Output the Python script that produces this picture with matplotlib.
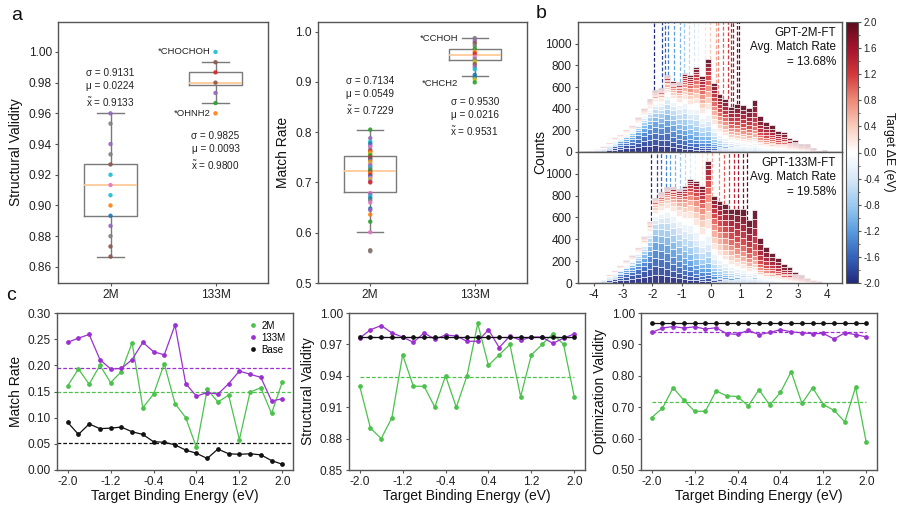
import numpy as np
import matplotlib
matplotlib.use("Agg")
import matplotlib.pyplot as plt
from matplotlib.colors import Normalize, LinearSegmentedColormap
from matplotlib.cm import ScalarMappable
from matplotlib.lines import Line2D
from matplotlib.ticker import MultipleLocator, FormatStrFormatter

plt.rcParams.update({
    "font.family": ["Liberation Sans", "DejaVu Sans"],
    "mathtext.fontset": "custom",
    "mathtext.rm": "Liberation Sans",
    "mathtext.it": "Liberation Sans:italic",
    "axes.unicode_minus": False,
    "axes.edgecolor": "#555555",
    "axes.linewidth": 1.0,
    "xtick.color": "#555555",
    "ytick.color": "#555555",
    "xtick.labelcolor": "#222222",
    "ytick.labelcolor": "#222222",
    "xtick.major.size": 2.5,
    "ytick.major.size": 2.5,
    "xtick.major.pad": 2.0,
    "ytick.major.pad": 2.0,
    "xtick.labelsize": 8.6,
    "ytick.labelsize": 8.6,
    "axes.labelsize": 10,
    "axes.labelcolor": "#111111",
})

TAB10 = plt.get_cmap("tab10").colors

# ---------------------------------------------------------------- data (a)
sv_2m = [0.9600, 0.9533, 0.9400, 0.9333, 0.9267, 0.9200, 0.9133, 0.9067,
         0.9000, 0.8933, 0.8867, 0.8800, 0.8733, 0.8667]
sv_2m_cidx = [4, 7, 4, 7, 5, 9, 6, 9, 1, 0, 4, 7, 5, 5]
sv_133m = [1.0000, 0.9933, 0.9867, 0.9800, 0.9733, 0.9667, 0.9600]
sv_133m_cidx = [9, 5, 3, 5, 4, 2, 1]
sv_box = {"2M": (0.8933, 0.9133, 0.9267, 0.8667, 0.9600),
          "133M": (0.9783, 0.9800, 0.9867, 0.9667, 0.9933)}
sv_stats = ["σ = 0.9131\nμ = 0.0224\n$\\tilde{\\mathrm{x}}$ = 0.9133",
            "σ = 0.9825\nμ = 0.0093\n$\\tilde{\\mathrm{x}}$ = 0.9800"]

mr_2m = [0.805, 0.788, 0.781, 0.777, 0.773, 0.770, 0.765, 0.762, 0.760, 0.757,
         0.754, 0.751, 0.748, 0.745, 0.742, 0.739, 0.736, 0.733, 0.730, 0.727,
         0.724, 0.721, 0.718, 0.715, 0.712, 0.709, 0.706, 0.702, 0.700, 0.679,
         0.676, 0.672, 0.668, 0.664, 0.660, 0.648, 0.645, 0.636, 0.622, 0.601,
         0.565, 0.563]
mr_2m_cidx = [2, 4, 9, 0, 4, 6, 7, 3, 1, 8, 2, 5, 3, 0, 1, 8, 6, 4, 9, 7,
              2, 5, 1, 3, 0, 6, 8, 4, 3, 6, 4, 9, 0, 7, 6, 0, 4, 1, 2, 6, 5, 7]
mr_133m = [0.987, 0.982, 0.977, 0.972, 0.966, 0.960, 0.956, 0.950, 0.945,
           0.940, 0.935, 0.930, 0.925, 0.914, 0.909, 0.905, 0.899]
mr_133m_cidx = [7, 4, 5, 7, 2, 1, 3, 6, 7, 8, 5, 4, 9, 0, 0, 8, 2]
mr_box = {"2M": (0.680, 0.7229, 0.752, 0.601, 0.805),
          "133M": (0.943, 0.9531, 0.9655, 0.911, 0.987)}
mr_stats = ["σ = 0.7134\nμ = 0.0549\n$\\tilde{\\mathrm{x}}$ = 0.7229",
            "σ = 0.9530\nμ = 0.0216\n$\\tilde{\\mathrm{x}}$ = 0.9531"]

# ---------------------------------------------------------------- data (b)
targets = [-2.0, -1.8, -1.6, -1.4, -1.2, -1.0, -0.8, -0.6, -0.4, -0.2, 0.0,
           0.2, 0.4, 0.6, 0.8, 1.0, 1.2, 1.4, 1.6, 1.8, 2.0]
bin_edges = np.round(np.arange(-4.4, 4.41, 0.2), 2)
counts_2m = [22, 28, 37, 52, 92, 138, 170, 215, 250, 323, 409, 489, 570, 590,
             708, 660, 650, 730, 708, 785, 700, 855, 637, 532, 489, 420, 440,
             430, 410, 477, 330, 275, 245, 195, 188, 128, 108, 78, 70, 35, 22,
             14, 8, 3]
counts_133m = [9, 18, 31, 49, 80, 117, 163, 209, 255, 332, 431, 572, 778, 830,
               880, 877, 862, 886, 954, 932, 886, 1117, 794, 748, 723, 677, 677,
               677, 578, 670, 409, 332, 277, 225, 172, 142, 102, 71, 49, 31, 18,
               9, 3, 1]
# mean generated dE per target (dashed lines)
means_2m = [-1.94, -1.66, -1.57, -1.45, -1.25, -1.04, -0.92, -0.73, -0.56,
            -0.42, -0.31, -0.18, -0.02, 0.18, 0.26, 0.41, 0.58, 0.70, 0.78,
            0.89, 0.98]
means_133m = [-2.05, -1.85, -1.71, -1.54, -1.39, -1.22, -1.05, -0.88, -0.71,
              -0.55, -0.42, -0.31, -0.14, 0.03, 0.28, 0.47, 0.64, 0.81, 0.95,
              1.10, 1.24]
spread = 1.1

# colour scale as seen on the colour bar
cbar_stops = [-2.0, -1.6, -1.2, -0.8, -0.4, 0.0, 0.4, 0.8, 1.2, 1.6, 2.0]
cbar_colors = ["#232a7e", "#3463bd", "#5a9de0", "#9ccaf0", "#d9e8f7",
               "#ffffff", "#f9cdbc", "#ef8a78", "#d3383c", "#a5142c",
               "#5c0a1e"]

# ---------------------------------------------------------------- data (c)
energy = [-2.0, -1.8, -1.6, -1.4, -1.2, -1.0, -0.8, -0.6, -0.4, -0.2, 0.0,
          0.2, 0.4, 0.6, 0.8, 1.0, 1.2, 1.4, 1.6, 1.8, 2.0]
match_2m = [0.161, 0.193, 0.164, 0.200, 0.167, 0.188, 0.243, 0.119, 0.145,
            0.203, 0.127, 0.100, 0.043, 0.154, 0.130, 0.143, 0.058, 0.149,
            0.157, 0.108, 0.168]
match_133m = [0.244, 0.252, 0.259, 0.211, 0.193, 0.194, 0.211, 0.244, 0.226,
              0.220, 0.277, 0.165, 0.141, 0.148, 0.145, 0.165, 0.189, 0.183,
              0.177, 0.132, 0.136]
match_base = [0.091, 0.068, 0.088, 0.079, 0.080, 0.082, 0.073, 0.068, 0.054,
              0.053, 0.048, 0.038, 0.032, 0.022, 0.040, 0.031, 0.030, 0.031,
              0.029, 0.018, 0.011]
struct_2m = [0.93, 0.89, 0.88, 0.90, 0.96, 0.93, 0.93, 0.91, 0.94, 0.91, 0.94,
             0.99, 0.95, 0.96, 0.97, 0.92, 0.96, 0.97, 0.98, 0.97, 0.92]
struct_133m = [0.976, 0.984, 0.988, 0.981, 0.977, 0.972, 0.981, 0.975, 0.979,
               0.978, 0.973, 0.973, 0.984, 0.967, 0.978, 0.974, 0.977, 0.977,
               0.971, 0.976, 0.980]
struct_base = [0.9766] * 21
opt_2m = [0.667, 0.697, 0.762, 0.722, 0.687, 0.687, 0.752, 0.736, 0.734,
          0.704, 0.756, 0.707, 0.747, 0.813, 0.712, 0.762, 0.708, 0.690,
          0.653, 0.764, 0.588]
opt_133m = [0.938, 0.952, 0.957, 0.952, 0.956, 0.949, 0.953, 0.934, 0.932,
            0.945, 0.931, 0.938, 0.947, 0.940, 0.937, 0.934, 0.935, 0.917,
            0.937, 0.931, 0.924]
opt_base = [0.967] * 21

GREEN = "#4cc24c"
PURPLE = "#9b30d0"
BLACK = "#111111"

W, H = 898, 505
fig = plt.figure(figsize=(W / 100, H / 100), dpi=100)


def px_axes(l, t, r, b):
    return fig.add_axes([l / W, 1 - b / H, (r - l) / W, (b - t) / H])


def box_panel(ax, box, pts, cidx, stats, ylim, ylabel, stat_y, notes):
    bstats = []
    for name, (q1, med, q3, lo, hi) in box.items():
        bstats.append(dict(label=name, q1=q1, med=med, q3=q3,
                           whislo=lo, whishi=hi, fliers=[]))
    gray = dict(color="#7a7a7a", linewidth=1.0)
    ax.bxp(bstats, positions=[1, 2], widths=0.5, capwidths=0.25,
           showfliers=False, boxprops=gray, whiskerprops=gray, capprops=gray,
           medianprops=dict(color="#ffc690", linewidth=1.2))
    for pos, (vals, idx) in enumerate(zip(pts, cidx), start=1):
        ax.scatter([pos] * len(vals), vals, c=[TAB10[i] for i in idx],
                   s=10, linewidths=0, alpha=0.9, zorder=3)
    for pos, (txt, y) in enumerate(zip(stats, stat_y), start=1):
        ax.text(pos, y, txt, ha="center", va="center", fontsize=7.2,
                linespacing=1.35, color="#222222")
    for x, y, txt in notes:
        ax.text(x, y, txt, ha="right", va="center", fontsize=6.8,
                color="#222222")
    ax.set_xlim(0.5, 2.5)
    ax.set_ylim(*ylim)
    ax.set_ylabel(ylabel)


# ---------------------------------------------------------------- panel a
ax1 = px_axes(58, 22, 268, 283)
box_panel(ax1, sv_box, [sv_2m, sv_133m], [sv_2m_cidx, sv_133m_cidx],
          sv_stats, (0.8495, 1.0195), "Structural Validity", [0.9765, 0.9355],
          [(1.95, 1.0, "*CHOCHOH"), (1.95, 0.96, "*OHNH2")])
ax1.set_yticks(np.arange(0.86, 1.001, 0.02))
ax1.yaxis.set_major_formatter(FormatStrFormatter("%.2f"))

ax2 = px_axes(318, 22, 527, 283)
box_panel(ax2, mr_box, [mr_2m, mr_133m], [mr_2m_cidx, mr_133m_cidx],
          mr_stats, (0.5, 1.019), "Match Rate", [0.872, 0.830],
          [(1.84, 0.987, "*CCHOH"), (1.84, 0.896, "*CHCH2")])
ax2.set_yticks(np.arange(0.5, 1.001, 0.1))
ax2.yaxis.set_major_formatter(FormatStrFormatter("%.1f"))

# ---------------------------------------------------------------- panel b
norm = Normalize(-2.0, 2.0)
cmap = LinearSegmentedColormap.from_list(
    "target_dE", [(norm(s), c) for s, c in zip(cbar_stops, cbar_colors)])
centers = (bin_edges[:-1] + bin_edges[1:]) / 2


def hist_panel(ax, counts, means, label):
    counts = np.asarray(counts, float)
    mu = np.asarray(means)
    # share of each target in every bin (heavy-tailed spread around its mean)
    w = (1 + ((centers[:, None] - mu[None, :]) / spread) ** 2 / 3) ** -2
    w /= w.sum(axis=1, keepdims=True)
    parts = counts[:, None] * w
    bottom = np.zeros(len(centers))
    for k, t in enumerate(targets):
        ax.bar(centers, parts[:, k], bottom=bottom, width=0.2,
               color=cmap(norm(t)), edgecolor="white", linewidth=0.5,
               alpha=0.9, zorder=2)
        bottom += parts[:, k]
    for t, m in zip(targets, means):
        i = np.clip(np.searchsorted(bin_edges, m) - 1, 0, len(counts) - 1)
        ax.vlines(m, counts[i], 1200, colors=[cmap(norm(t))],
                  linestyles=(0, (3, 1.6)), linewidth=0.9, zorder=1)
    ax.text(0.977, 0.965, label, transform=ax.transAxes, ha="right",
            va="top", fontsize=8.4, linespacing=1.3, color="#111111")
    ax.set_xlim(-4.55, 4.5)
    ax.set_ylim(0, 1200)
    ax.set_yticks(np.arange(0, 1001, 200))
    ax.set_xticks(np.arange(-4, 5, 1))


axb1 = px_axes(578, 22, 842, 152)
hist_panel(axb1, counts_2m, means_2m,
           "GPT-2M-FT\nAvg. Match Rate\n= 13.68%")
axb1.tick_params(axis="x", labelbottom=False, length=0)
axb2 = px_axes(578, 152, 842, 283)
hist_panel(axb2, counts_133m, means_133m,
           "GPT-133M-FT\nAvg. Match Rate\n= 19.58%")
fig.text(540 / W, 1 - 152 / H, "Counts", rotation=90, ha="center",
         va="center", fontsize=10, color="#111111")

cax = px_axes(846, 22, 858, 283)
cb = fig.colorbar(ScalarMappable(norm=norm, cmap=cmap), cax=cax,
                  ticks=np.round(np.arange(-2.0, 2.01, 0.4), 1) + 0.0)
cb.ax.yaxis.set_minor_locator(MultipleLocator(0.2))
cb.ax.yaxis.set_major_formatter(FormatStrFormatter("%.1f"))
cb.ax.tick_params(labelsize=7, length=2.5, width=0.8, pad=1.5)
cb.ax.tick_params(which="minor", length=1.5, width=0.6)
cb.outline.set_linewidth(0.8)
fig.text(889 / W, 1 - 152 / H, "Target ΔE (eV)", rotation=270,
         ha="center", va="center", fontsize=8.8, color="#111111")

# ---------------------------------------------------------------- panel c
c_specs = [
    (57, match_2m, match_133m, match_base, "Match Rate",
     (0.0, 0.30), np.arange(0, 0.301, 0.05), True),
    (349, struct_2m, struct_133m, struct_base, "Structural Validity",
     (0.85, 1.0), np.arange(0.85, 1.001, 0.03), False),
    (641, opt_2m, opt_133m, opt_base, "Optimization Validity",
     (0.50, 1.0), np.arange(0.5, 1.001, 0.1), False),
]
for left, s2, s133, sbase, ylabel, ylim, yticks, full in c_specs:
    ax = px_axes(left, 313, left + 236, 470)
    for series, col in ((s2, GREEN), (s133, PURPLE), (sbase, BLACK)):
        ax.plot(energy, series, color=col, marker="o", ms=2.4, lw=0.9,
                zorder=3)
        m = np.mean(series)
        if full:
            ax.axhline(m, color=col, ls=(0, (3, 1.6)), lw=0.9, zorder=2)
        elif col != BLACK:
            ax.hlines(m, energy[0], energy[-1], color=col,
                      ls=(0, (3, 1.6)), lw=0.9, zorder=2)
    ax.set_xlim(-2.2, 2.2)
    ax.set_ylim(*ylim)
    ax.set_yticks(yticks)
    ax.yaxis.set_major_formatter(FormatStrFormatter("%.2f"))
    ax.set_xticks([-2.0, -1.2, -0.4, 0.4, 1.2, 2.0])
    ax.xaxis.set_major_formatter(FormatStrFormatter("%.1f"))
    ax.set_xlabel("Target Binding Energy (eV)", labelpad=0.5)
    ax.set_ylabel(ylabel, labelpad=3)
    if full:
        handles = [Line2D([], [], color=c, marker="o", ls="none", ms=2.4)
                   for c in (GREEN, PURPLE, BLACK)]
        ax.legend(handles, ["2M", "133M", "Base"], loc="upper right",
                  frameon=False, fontsize=7, handletextpad=0.2,
                  labelspacing=0.2, borderaxespad=0.5, handlelength=1.2,
                  borderpad=0.3)

# panel letters
for x, y, s in ((17, 15, "a"), (541, 14, "b"), (11, 295, "c")):
    fig.text(x / W, 1 - y / H, s, fontsize=14, ha="center", va="center",
             color="#111111")

fig.savefig("out.png", dpi=100)
